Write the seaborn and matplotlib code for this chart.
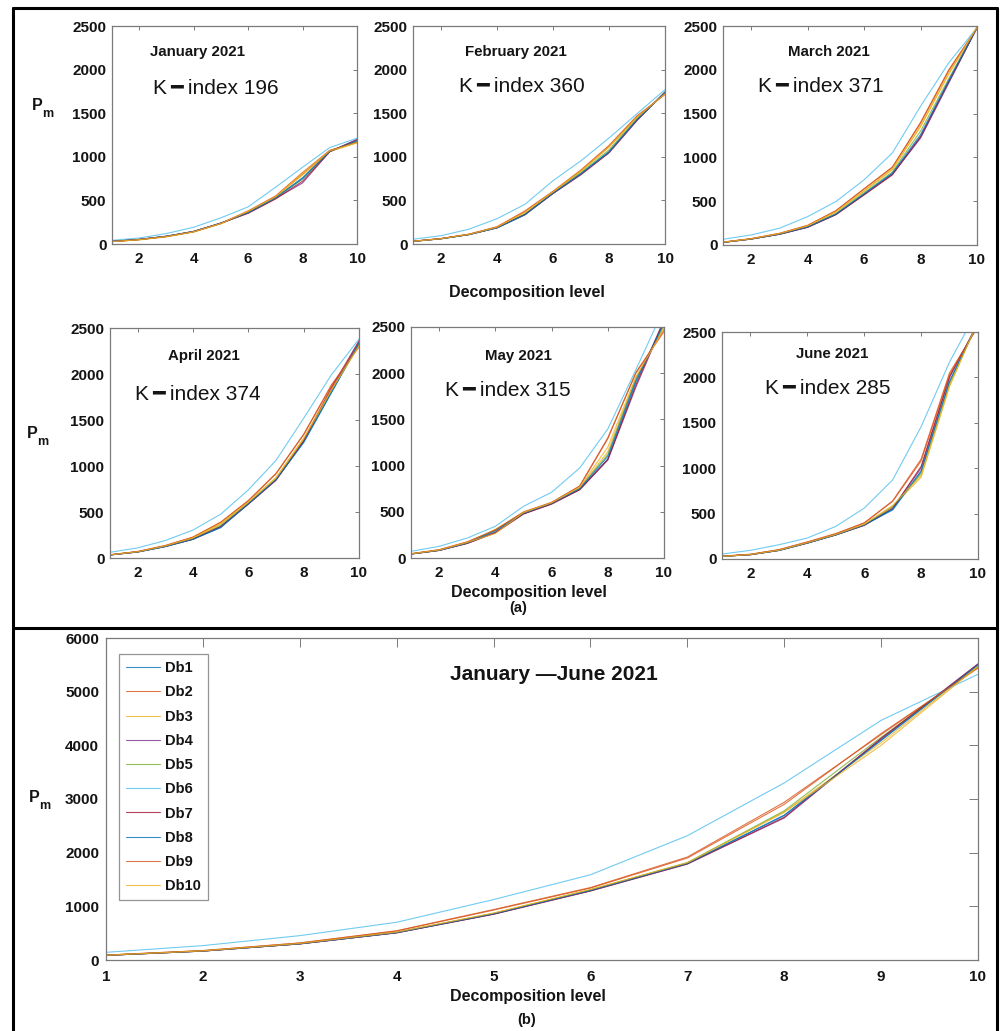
import numpy as np
import pandas as pd
import matplotlib
matplotlib.use("Agg")
import matplotlib.pyplot as plt
import seaborn as sns
from matplotlib.lines import Line2D

sns.set_style("white")
plt.rcParams["font.family"] = ["Liberation Sans", "DejaVu Sans"]

levels = list(range(1, 11))
wavelets = [f"Db{i}" for i in range(1, 11)]
palette = ["#0072BD", "#D95319", "#EDB120", "#7E2F8E", "#77AC30",
           "#4DBEEE", "#A2142F", "#0072BD", "#D95319", "#EDB120"]

months = ["January 2021", "February 2021", "March 2021",
          "April 2021", "May 2021", "June 2021"]
k_index = [196, 360, 371, 374, 315, 285]

# P_m per decomposition level, one row per Daubechies wavelet (Db1 .. Db10)
pm_jan = [
    [30, 52, 88, 142, 238, 365, 530, 760, 1065, 1180],
    [28, 50, 85, 140, 235, 372, 545, 800, 1070, 1170],
    [27, 48, 82, 138, 232, 368, 540, 790, 1060, 1160],
    [30, 53, 90, 145, 240, 355, 520, 700, 1060, 1200],
    [29, 51, 86, 141, 236, 362, 525, 745, 1062, 1175],
    [42, 69, 120, 192, 300, 426, 649, 880, 1106, 1213],
    [30, 52, 88, 143, 238, 352, 515, 720, 1058, 1195],
    [31, 53, 89, 144, 240, 360, 528, 750, 1065, 1185],
    [28, 50, 86, 141, 237, 380, 548, 820, 1075, 1165],
    [27, 49, 84, 139, 234, 375, 540, 810, 1068, 1160],
]
pm_feb = [
    [30, 60, 108, 185, 335, 585, 810, 1060, 1430, 1735],
    [32, 62, 112, 195, 370, 600, 840, 1120, 1460, 1720],
    [30, 60, 110, 190, 360, 595, 835, 1110, 1450, 1725],
    [31, 61, 109, 186, 340, 580, 800, 1050, 1420, 1740],
    [30, 60, 108, 188, 345, 590, 820, 1080, 1440, 1730],
    [55, 95, 170, 290, 455, 726, 955, 1215, 1494, 1770],
    [31, 61, 109, 186, 338, 578, 795, 1045, 1415, 1745],
    [30, 60, 108, 185, 336, 582, 805, 1055, 1425, 1738],
    [32, 63, 113, 198, 380, 605, 850, 1130, 1470, 1715],
    [31, 61, 111, 192, 365, 598, 838, 1115, 1455, 1722],
]
pm_mar = [
    [30, 69, 124, 205, 350, 580, 815, 1230, 1860, 2480],
    [33, 72, 132, 222, 390, 640, 885, 1400, 2000, 2480],
    [31, 70, 128, 215, 375, 615, 860, 1350, 1950, 2485],
    [30, 68, 123, 203, 348, 575, 805, 1220, 1850, 2480],
    [30, 69, 125, 208, 360, 598, 835, 1300, 1900, 2482],
    [65, 115, 191, 324, 496, 744, 1050, 1584, 2080, 2480],
    [30, 68, 122, 202, 346, 572, 800, 1240, 1870, 2478],
    [30, 69, 124, 206, 352, 585, 820, 1260, 1880, 2480],
    [33, 73, 133, 225, 392, 642, 890, 1390, 1990, 2475],
    [32, 71, 130, 218, 380, 620, 868, 1360, 1960, 2485],
]
pm_apr = [
    [33, 66, 125, 205, 330, 590, 850, 1260, 1800, 2330],
    [35, 70, 135, 225, 385, 620, 915, 1340, 1870, 2300],
    [34, 68, 130, 215, 370, 605, 875, 1300, 1830, 2310],
    [33, 66, 126, 206, 345, 588, 848, 1270, 1820, 2350],
    [34, 67, 128, 210, 355, 598, 860, 1285, 1810, 2320],
    [62, 110, 190, 304, 476, 740, 1061, 1519, 1990, 2380],
    [33, 66, 125, 204, 340, 585, 845, 1275, 1850, 2360],
    [33, 65, 124, 203, 332, 588, 852, 1255, 1795, 2335],
    [36, 71, 136, 228, 390, 625, 920, 1345, 1880, 2295],
    [34, 68, 131, 218, 375, 608, 870, 1295, 1825, 2305],
]
pm_may = [
    [43, 83, 160, 280, 480, 590, 745, 1070, 1900, 2560],
    [46, 88, 172, 300, 495, 600, 775, 1290, 2010, 2450],
    [44, 85, 165, 310, 490, 595, 760, 1150, 1950, 2500],
    [43, 82, 158, 275, 478, 585, 740, 1060, 1850, 2560],
    [44, 84, 163, 300, 488, 594, 755, 1120, 1940, 2520],
    [72, 126, 216, 343, 559, 711, 974, 1396, 2038, 2700],
    [43, 82, 158, 272, 476, 583, 738, 1065, 1870, 2580],
    [44, 83, 162, 295, 485, 592, 750, 1100, 1920, 2540],
    [47, 90, 175, 305, 498, 602, 780, 1300, 2000, 2470],
    [45, 86, 168, 265, 492, 598, 765, 1200, 1960, 2480],
]
pm_jun = [
    [29, 48, 95, 176, 266, 375, 540, 960, 1950, 2600],
    [31, 52, 102, 186, 278, 395, 640, 1100, 2050, 2560],
    [29, 48, 96, 178, 268, 380, 580, 900, 1900, 2620],
    [29, 48, 95, 176, 266, 372, 560, 1000, 2000, 2600],
    [29, 48, 95, 177, 267, 378, 575, 940, 1930, 2610],
    [55, 95, 157, 231, 359, 560, 871, 1457, 2170, 2750],
    [29, 48, 95, 175, 265, 370, 555, 1020, 2010, 2590],
    [29, 48, 94, 175, 265, 373, 548, 970, 1960, 2610],
    [31, 52, 103, 188, 280, 398, 635, 1080, 2030, 2570],
    [29, 49, 97, 180, 270, 382, 590, 920, 1910, 2620],
]
pm_total = [
    [88, 168, 302, 510, 860, 1300, 1800, 2700, 4100, 5500],
    [92, 176, 318, 545, 940, 1350, 1918, 2939, 4200, 5450],
    [88, 168, 304, 515, 870, 1310, 1810, 2760, 4050, 5480],
    [86, 166, 300, 508, 855, 1290, 1790, 2646, 4120, 5520],
    [88, 168, 305, 515, 868, 1305, 1815, 2780, 4150, 5470],
    [143, 268, 454, 703, 1126, 1588, 2316, 3300, 4465, 5324],
    [86, 166, 300, 506, 852, 1285, 1788, 2660, 4130, 5510],
    [87, 167, 302, 510, 860, 1295, 1798, 2690, 4090, 5500],
    [91, 175, 316, 540, 930, 1340, 1900, 2900, 4220, 5440],
    [89, 170, 308, 520, 875, 1315, 1812, 2750, 4000, 5470],
]
monthly = [pm_jan, pm_feb, pm_mar, pm_apr, pm_may, pm_jun]

W, H = 1001, 1031
fig = plt.figure(figsize=(W / 100, H / 100), dpi=100)


def px_box(left, top, right, bottom):
    return [left / W, 1 - bottom / H, (right - left) / W, (bottom - top) / H]


def fx(x):
    return x / W


def fy(y):
    return 1 - y / H


INK = "#141414"
SPINE = "#7a7a7a"


def draw_panel(ax, series, ymax, ystep, xticks, ticklen, legend):
    df = pd.DataFrame({
        "level": np.tile(levels, len(wavelets)),
        "Pm": np.concatenate([np.asarray(s, dtype=float) for s in series]),
        "wavelet": np.repeat(wavelets, len(levels)),
    })
    sns.lineplot(data=df, x="level", y="Pm", hue="wavelet", hue_order=wavelets,
                 palette=palette, linewidth=0.8, alpha=0.8, estimator=None,
                 sort=False, legend=legend, ax=ax)
    ax.set_xlim(1, 10)
    ax.set_ylim(0, ymax)
    ax.set_xticks(xticks)
    ax.set_yticks(np.arange(0, ymax + 1, ystep))
    ax.set_xlabel("")
    ax.set_ylabel("")
    ax.tick_params(direction="in", top=True, right=True, length=ticklen,
                   width=0.7, color=SPINE, labelsize=11, labelcolor=INK)
    ax.tick_params(axis="x", pad=6)
    ax.tick_params(axis="y", pad=4)
    for lab in ax.get_xticklabels() + ax.get_yticklabels():
        lab.set_fontweight("bold")
    for sp in ax.spines.values():
        sp.set_color(SPINE)
        sp.set_linewidth(0.9)


panel_boxes = [
    (112, 26, 357, 244), (413, 26, 665, 244), (723, 26, 977, 245),
    (110, 328, 359, 558), (411, 327, 664, 558), (722, 332, 978, 559),
]
month_xy = [(197, 52), (516, 52), (829, 52), (204, 356), (518, 356), (832, 354)]
kidx_xy = [(216, 89), (522, 87), (821, 86), (198, 395), (508, 391), (828, 388)]

for i, box in enumerate(panel_boxes):
    ax = fig.add_axes(px_box(*box))
    draw_panel(ax, monthly[i], 2500, 500, [2, 4, 6, 8, 10], 3, False)
    fig.text(fx(month_xy[i][0]), fy(month_xy[i][1]), months[i], ha="center",
             va="center", fontsize=10.8, fontweight="bold", color=INK)
    fig.text(fx(kidx_xy[i][0]), fy(kidx_xy[i][1]),
             f"K\u2009\u2501\u2009index {k_index[i]}", ha="center", va="center",
             fontsize=15, color=INK)

# combined January-June panel
axb = fig.add_axes(px_box(106, 638, 978, 960))
draw_panel(axb, pm_total, 6000, 1000, levels, 6.5, True)
axb.tick_params(axis="y", pad=5)
axb.tick_params(axis="x", pad=7)
sns.move_legend(axb, "upper left", bbox_to_anchor=(13 / 872, 1 - 16 / 322),
                borderaxespad=0, frameon=True, fancybox=False, title=None,
                fontsize=10.5, handlelength=2.3, handletextpad=0.35,
                labelspacing=0.7, borderpad=0.5)
leg = axb.get_legend()
leg.get_frame().set_edgecolor(SPINE)
leg.get_frame().set_linewidth(0.9)
for t in leg.get_texts():
    t.set_fontweight("bold")
    t.set_color(INK)
fig.text(fx(554), fy(675), "January \u2014June 2021", ha="center", va="center",
         fontsize=15, fontweight="bold", color=INK)

# axis labels
for (x, y) in [(43, 108), (38, 436), (40, 800)]:
    fig.text(fx(x - 6), fy(y - 3), "P", ha="center", va="center",
             fontsize=11.5, fontweight="bold", color=INK)
    fig.text(fx(x + 5), fy(y + 6), "m", ha="center", va="center",
             fontsize=9, fontweight="bold", color=INK)

for (x, y, s, fs) in [(527, 293, "Decomposition level", 11.5),
                      (529, 592, "Decomposition level", 11.5),
                      (518, 608, "(a)", 10.5),
                      (528, 996, "Decomposition level", 11.5),
                      (527, 1020, "(b)", 10.5)]:
    fig.text(fx(x), fy(y), s, ha="center", va="center", fontsize=fs,
             fontweight="bold", color=INK)

# frames around parts (a) and (b)
frame_kw = dict(color="black", linewidth=2.2, transform=fig.transFigure)
for seg in [((13, 997), (8, 8)), ((13, 997), (628, 628)),
            ((13, 13), (8, 1031)), ((997, 997), (8, 1031))]:
    fig.add_artist(Line2D([fx(v) for v in seg[0]], [fy(v) for v in seg[1]],
                          **frame_kw))

fig.savefig("out.png", dpi=100)
